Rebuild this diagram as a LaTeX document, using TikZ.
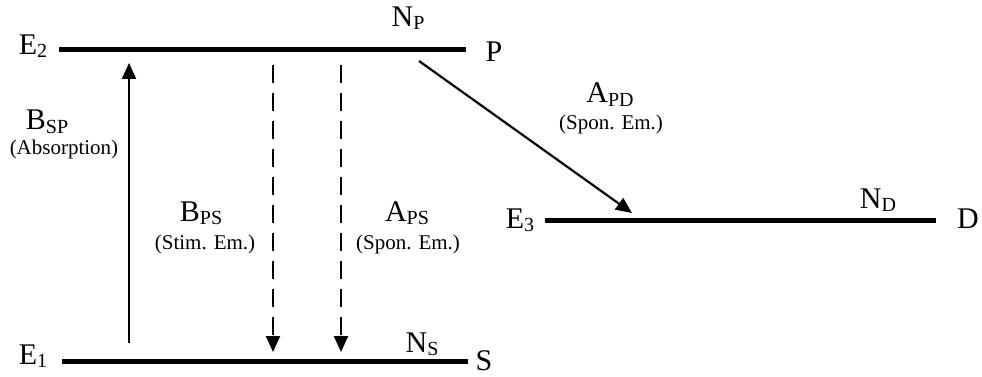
\documentclass[tikz,border=0pt]{standalone}
\usepackage{fontspec}
\setmainfont{Liberation Serif}
\usetikzlibrary{arrows.meta}
\newcommand\lsub[1]{\raisebox{-3pt}{\fontsize{20}{20}\selectfont #1}}
\tikzset{
  level/.style={line width=5pt},
  trans/.style={line width=2.2pt,-{Triangle[width=14pt,length=16pt]}},
  dashtrans/.style={trans,dash pattern=on 18pt off 10pt},
  big/.style={anchor=base,inner sep=0pt,font=\fontsize{30}{32}\selectfont},
  small/.style={anchor=base,inner sep=0pt,font=\fontsize{21}{23}\selectfont},
}
\begin{document}
\begin{tikzpicture}[x=1pt,y=-1pt]
\useasboundingbox (0,0) rectangle (982,377);
% level coordinates
\coordinate (p1) at (59,50);
\coordinate (p2) at (466,50);
\coordinate (s1) at (62,361.5);
\coordinate (s2) at (468,361.5);
\coordinate (d1) at (545,220);
\coordinate (d2) at (936,220);
\draw[level] (p1) -- (p2);
\draw[level] (s1) -- (s2);
\draw[level] (d1) -- (d2);
% transitions
\coordinate (abs0) at (129,343);
\coordinate (abs1) at (129,63);
\draw[trans] (abs0) -- (abs1);
\coordinate (st0) at (273,65);
\coordinate (st1) at (273,352);
\draw[dashtrans] (st0) -- (st1);
\coordinate (sp0) at (341,65);
\coordinate (sp1) at (341,352);
\draw[dashtrans] (sp0) -- (sp1);
\coordinate (pd0) at (419,61);
\coordinate (pd1) at (632,213);
\draw[trans] (pd0) -- (pd1);
% labels
\node[big] (E2) at (33,55) {E\lsub{2}};
\node[big] (NP) at (408,27) {N\lsub{P}};
\node[big] (P) at (494,62) {P};
\node[big] (E1) at (33,364) {E\lsub{1}};
\node[big] (NS) at (422,352) {N\lsub{S}};
\node[big] (S) at (484,370) {S};
\node[big] (E3) at (520,228) {E\lsub{3}};
\node[big] (ND) at (878,208) {N\lsub{D}};
\node[big] (D) at (968,228) {D};
\node[big] (BSP) at (47,130) {B\lsub{SP}};
\node[small] (abs) at (64,154) {(Absorption)};
\node[big] (BPS) at (201,221) {B\lsub{PS}};
\node[small] (stim) at (205,249) {(Stim. Em.)};
\node[big] (APS) at (407,221) {A\lsub{PS}};
\node[small] (spon1) at (408,249) {(Spon. Em.)};
\node[big] (APD) at (610,103) {A\lsub{PD}};
\node[small] (spon2) at (611,130) {(Spon. Em.)};
\end{tikzpicture}
\end{document}
